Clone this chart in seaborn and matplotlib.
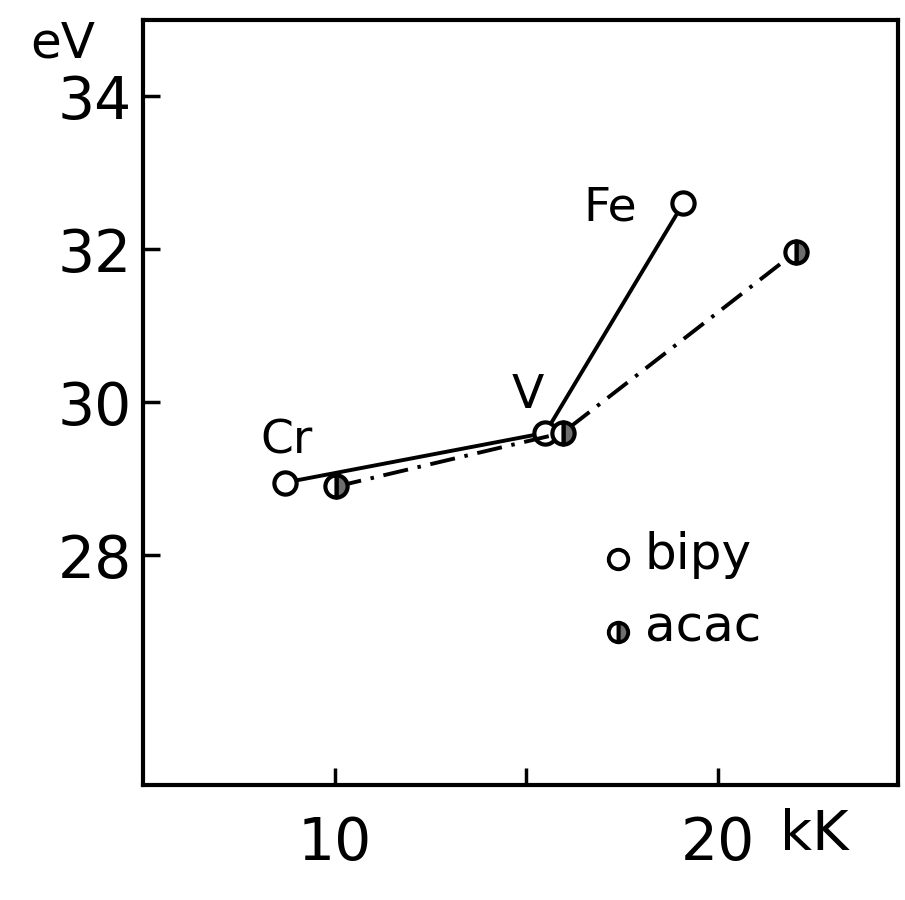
import matplotlib
matplotlib.use("Agg")
import matplotlib.pyplot as plt
import seaborn as sns
import pandas as pd

# data
metals_bipy = ["Cr", "V", "Fe"]
x_bipy = [8.7, 15.5, 19.1]
y_bipy = [28.95, 29.6, 32.6]
metals_acac = ["Cr", "V", "Fe"]
x_acac = [10.05, 15.95, 22.05]
y_acac = [28.9, 29.6, 31.97]
yticks = [28, 30, 32, 34]
xticks = [10, 15, 20]
xticklabels = ["10", "", "20"]

sns.set_theme(style="ticks")
plt.rcParams["font.family"] = ["DejaVu Sans"]
plt.rcParams["text.color"] = "black"
plt.rcParams["xtick.color"] = "black"
plt.rcParams["ytick.color"] = "black"
plt.rcParams["xtick.labelcolor"] = "black"
plt.rcParams["ytick.labelcolor"] = "black"

fig = plt.figure(figsize=(9.05, 9.0), dpi=100)
ax = fig.add_axes([0.158, 0.128, 0.834, 0.850])

df_b = pd.DataFrame({"x": x_bipy, "y": y_bipy, "m": metals_bipy})
df_a = pd.DataFrame({"x": x_acac, "y": y_acac, "m": metals_acac})

sns.lineplot(data=df_b, x="x", y="y", ax=ax, color="black", linewidth=2.8,
             marker="o", markersize=16, markerfacecolor="white",
             markeredgecolor="black", markeredgewidth=3, sort=False, zorder=3)
sns.lineplot(data=df_a, x="x", y="y", ax=ax, color="black", linewidth=2.8,
             linestyle=(0, (6.5, 2.5, 0.9, 2.5)),
             marker="o", markersize=16, fillstyle="right",
             markerfacecolor="#6e6e6e", markerfacecoloralt="white",
             markeredgecolor="black", markeredgewidth=3, sort=False, zorder=4)

ax.set_xlim(5, 24.7)
ax.set_ylim(25, 35)
ax.set_xticks(xticks)
ax.set_xticklabels(xticklabels)
ax.set_yticks(yticks)
ax.tick_params(direction="in", length=12, width=2.5, labelsize=42, pad=8)
ax.tick_params(axis="x", pad=22)
for s in ax.spines.values():
    s.set_linewidth(3)
    s.set_color("black")
ax.set_xlabel("")
ax.set_ylabel("")

fs = 34
ax.text(8.75, 29.2, "Cr", fontsize=fs, ha="center", va="bottom")
ax.text(15.05, 29.8, "V", fontsize=fs, ha="center", va="bottom")
ax.text(17.2, 32.25, "Fe", fontsize=fs, ha="center", va="bottom")

# legend (drawn as text + markers)
ax.plot([17.4], [27.95], marker="o", ms=14, mfc="white", mec="black", mew=2.8, ls="none")
ax.plot([17.4], [27.0], marker="o", ms=14, fillstyle="right", mfc="#6e6e6e",
        markerfacecoloralt="white", mec="black", mew=2.8, ls="none")
ax.text(18.1, 28.0, "bipy", fontsize=36, ha="left", va="center")
ax.text(18.1, 27.05, "acac", fontsize=36, ha="left", va="center")

fig.text(0.033, 0.952, "eV", fontsize=36, ha="left", va="center")
fig.text(0.862, 0.072, "kK", fontsize=40, ha="left", va="center")

fig.savefig("out.png", dpi=100)
